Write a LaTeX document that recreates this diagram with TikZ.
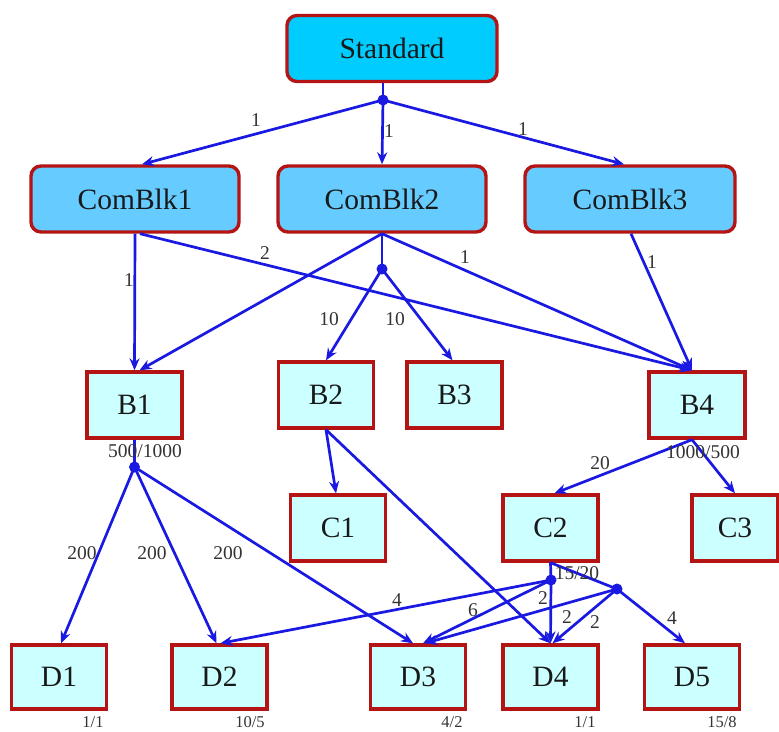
\documentclass[tikz,border=0pt]{standalone}
\usepackage{fontspec}
\setmainfont{Liberation Serif}
\usetikzlibrary{arrows.meta,calc}
\definecolor{edgeblue}{RGB}{25,25,225}
\definecolor{boxred}{RGB}{180,20,20}
\definecolor{stdfill}{RGB}{0,204,255}
\definecolor{cbfill}{RGB}{102,204,255}
\definecolor{bxfill}{RGB}{204,255,255}
\begin{document}
\begin{tikzpicture}[x=1pt,y=-1pt,
 rbox/.style={draw=boxred,line width=3.4pt,rounded corners=10pt,minimum height=66pt,font=\fontsize{29.5}{31}\selectfont,inner sep=0pt,text=black!90},
 sbox/.style={draw=boxred,line width=3.4pt,fill=bxfill,minimum width=95pt,minimum height=66pt,font=\fontsize{29.5}{31}\selectfont,inner sep=0pt,text=black!90},
 jdot/.style={circle,fill=edgeblue,inner sep=0pt,minimum size=11pt},
 conn/.style={draw=edgeblue,line width=2.7pt,-{Stealth[length=12pt,width=10pt]}},
 plain/.style={draw=edgeblue,line width=2.7pt},
 lbl/.style={font=\fontsize{19.5}{21}\selectfont,inner sep=0pt,text=black!80},
 blbl/.style={font=\fontsize{16.5}{18}\selectfont,inner sep=0pt,text=black!80,anchor=south}]
\useasboundingbox (0,0) rectangle (779,731);
% boxes
\node[rbox,fill=stdfill,minimum width=210pt] (st) at (392,48.5) {Standard};
\node[rbox,fill=cbfill,minimum width=208pt] (cb1) at (135,199) {ComBlk1};
\node[rbox,fill=cbfill,minimum width=208pt] (cb2) at (382,199) {ComBlk2};
\node[rbox,fill=cbfill,minimum width=210pt] (cb3) at (630,199) {ComBlk3};
\node[sbox] (b1) at (134.5,405) {B1};
\node[sbox] (b2) at (326,395) {B2};
\node[sbox] (b3) at (454.5,395) {B3};
\node[sbox,minimum width=96pt] (b4) at (697,405) {B4};
\node[sbox] (c1) at (338,528) {C1};
\node[sbox] (c2) at (550.5,528) {C2};
\node[sbox,minimum width=86pt] (c3) at (735,528) {C3};
\node[sbox,minimum height=64pt] (d1) at (59,677) {D1};
\node[sbox,minimum height=64pt] (d2) at (219.5,677) {D2};
\node[sbox,minimum height=64pt] (d3) at (418,677) {D3};
\node[sbox,minimum height=64pt] (d4) at (550.5,677) {D4};
\node[sbox,minimum height=64pt] (d5) at (692,677) {D5};
% junctions
\node[jdot] (j0) at (383,100) {};
\node[jdot] (j1) at (382,269) {};
\node[jdot] (j2) at (134.5,467) {};
\node[jdot] (j3) at (551,580) {};
\node[jdot] (j4) at (617,589) {};
% connectors
\draw[plain] (st.south -| j0) -- (j0.center);
\draw[conn] (j0.center) -- ([xshift=7pt]cb1.north);
\draw[conn] (j0.center) -- (cb2.north);
\draw[conn] (j0.center) -- ([xshift=-6pt]cb3.north);
\draw[conn] (cb1.south) -- (b1.north);
\draw[conn] ([xshift=5pt]cb1.south) -- ([xshift=-5pt]b4.north);
\draw[conn] (cb2.south) -- ([xshift=5pt]b1.north);
\draw[plain] (cb2.south) -- (j1.center);
\draw[conn] (j1.center) -- (b2.north);
\draw[conn] (j1.center) -- ([xshift=-2pt]b3.north);
\draw[conn] (cb2.south) -- ([xshift=-5pt]b4.north);
\draw[conn] ([xshift=1pt]cb3.south) -- ([xshift=-5pt]b4.north);
\draw[plain] (b1.south) -- (j2.center);
\draw[conn] (j2.center) -- ([xshift=2pt]d1.north);
\draw[conn] (j2.center) -- ([xshift=-3pt]d2.north);
\draw[conn] (j2.center) -- ([xshift=-5pt]d3.north);
\draw[conn] (b2.south) -- ([xshift=-2pt]c1.north);
\draw[conn] (b2.south) -- (d4.north);
\draw[conn] ([xshift=-5pt]b4.south) -- ([xshift=4pt]c2.north);
\draw[conn] ([xshift=-5pt]b4.south) -- (c3.north);
\draw[plain] (c2.south) -- (j3.center);
\draw[plain] (c2.south) -- (j4.center);
\draw[conn] (j3.center) -- ([xshift=1pt]d2.north);
\draw[conn] (j3.center) -- ([xshift=5pt]d3.north);
\draw[conn] (j3.center) -- (d4.north);
\draw[conn] (j4.center) -- ([xshift=7pt]d3.north);
\draw[conn] (j4.center) -- ([xshift=2pt]d4.north);
\draw[conn] (j4.center) -- ([xshift=-7pt]d5.north);
% labels
\node[lbl] (l01) at (256,120) {1};
\node[lbl] (l02) at (389,131) {1};
\node[lbl] (l03) at (523,129) {1};
\node[lbl] (l04) at (129,280) {1};
\node[lbl] (l05) at (265,253) {2};
\node[lbl] (l06) at (465,257) {1};
\node[lbl] (l07) at (652,262) {1};
\node[lbl] (l08) at (329,319) {10};
\node[lbl] (l09) at (395,319) {10};
\node[lbl] (l10) at (145,451) {500/1000};
\node[lbl] (l11) at (703,452) {1000/500};
\node[lbl] (l12) at (600,463) {20};
\node[lbl] (l13) at (82,553) {200};
\node[lbl] (l14) at (152,553) {200};
\node[lbl] (l15) at (228,553) {200};
\node[lbl] (l16) at (577,573) {15/20};
\node[lbl] (l17) at (397,600) {4};
\node[lbl] (l18) at (473,610) {6};
\node[lbl] (l19) at (543,598) {2};
\node[lbl] (l20) at (567,617) {2};
\node[lbl] (l21) at (595,622) {2};
\node[lbl] (l22) at (672,618) {4};
\node[blbl] (l23) at (93,728) {1/1};
\node[blbl] (l24) at (250,728) {10/5};
\node[blbl] (l25) at (452,728) {4/2};
\node[blbl] (l26) at (585,728) {1/1};
\node[blbl] (l27) at (722,728) {15/8};
\end{tikzpicture}
\end{document}
